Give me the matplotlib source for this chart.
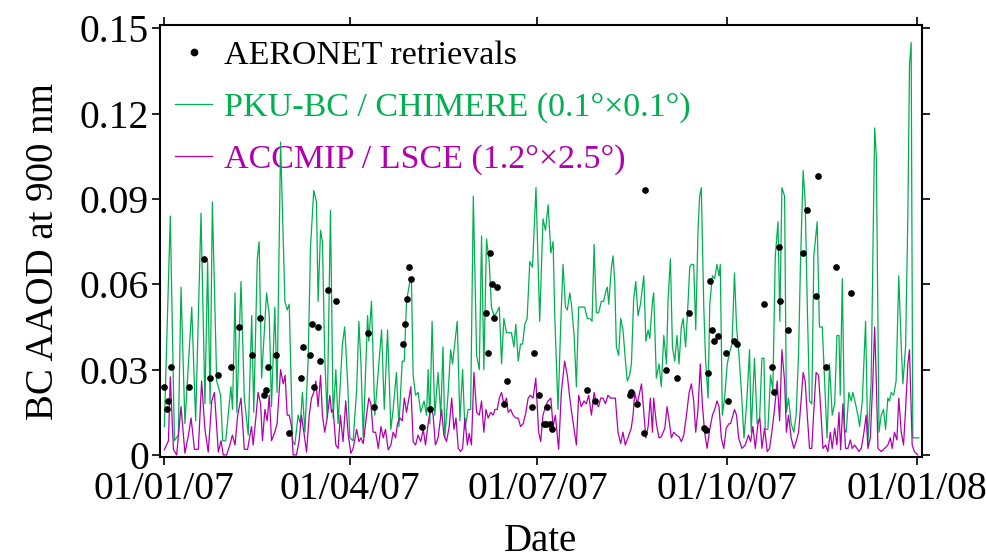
import datetime as dt

import matplotlib
matplotlib.use("Agg")
import matplotlib.dates as mdates
import matplotlib.pyplot as plt
import numpy as np

# ################ Data. ################ #
# days counted from 01/01/2007
START = dt.datetime(2007, 1, 1)

pku_days = [0.0, 2.9, 4.9, 6.8, 8.1, 10.0, 13.3, 15.2, 17.8, 19.7, 21.0, 22.2, 23.3, 25.4, 27.3, 28.3, 29.8, 32.3, 33.1,
            34.3, 35.2, 37.2, 38.8, 40.7, 42.4, 43.4, 45.1, 46.0, 47.2, 49.6, 50.9, 52.0, 53.6, 54.7, 56.4, 58.5, 59.6,
            60.6, 62.2, 63.3, 64.9, 66.0, 67.0, 68.2, 69.8, 70.9, 72.5, 73.8, 74.6, 75.8, 76.7, 77.8, 79.0, 80.6, 81.9,
            83.2, 84.3, 86.4, 87.5, 88.9, 90.0, 91.6, 93.3, 94.4, 95.4, 96.5, 98.6, 99.2, 100.5, 102.1, 103.4, 105.4,
            106.7, 108.3, 109.9, 111.0, 112.6, 113.8, 115.4, 116.4, 117.5, 119.1, 119.9, 120.7, 121.9, 123.1, 124.4,
            126.0, 127.2, 128.0, 128.8, 129.9, 131.2, 132.8, 134.1, 135.2, 136.1, 137.7, 138.9, 139.8, 141.0, 142.1,
            143.4, 144.7, 145.8, 147.4, 148.6, 149.9, 151.5, 152.8, 153.9, 155.0, 156.3, 157.6, 158.7, 159.9, 161.2,
            162.5, 163.6, 164.7, 166.0, 167.3, 168.4, 169.6, 170.5, 171.7, 172.8, 173.8, 174.9, 176.0, 177.3, 178.6,
            180.3, 182.1, 183.7, 184.9, 186.2, 187.5, 188.6, 189.4, 191.0, 192.3, 193.4, 194.6, 195.5, 196.7, 197.5,
            198.8, 199.9, 201.0, 202.3, 203.9, 205.2, 206.4, 207.5, 208.5, 209.6, 210.7, 212.0, 213.1, 214.0, 214.9,
            215.6, 216.9, 217.7, 218.5, 219.3, 220.4, 221.4, 222.5, 223.6, 224.6, 225.7, 226.6, 227.7, 228.7, 229.8,
            231.0, 232.6, 233.6, 234.7, 235.5, 236.8, 237.4, 238.7, 240.0, 241.1, 242.3, 243.6, 244.4, 245.5, 246.5,
            247.6, 248.7, 249.7, 250.8, 251.7, 252.9, 254.1, 254.9, 255.7, 256.8, 257.8, 258.9, 259.7, 260.5, 261.7,
            262.6, 263.8, 264.6, 265.9, 267.0, 268.1, 269.1, 269.7, 270.7, 271.8, 273.1, 274.2, 275.4, 276.6, 277.6,
            278.6, 279.9, 281.2, 282.5, 283.9, 284.7, 286.3, 287.6, 288.8, 289.9, 290.9, 291.5, 292.8, 294.1, 295.2,
            296.4, 297.7, 298.6, 299.6, 300.9, 301.8, 302.8, 304.1, 305.4, 306.5, 307.7, 308.6, 309.9, 310.9, 311.9,
            313.0, 314.1, 315.1, 316.7, 317.8, 319.2, 320.3, 321.5, 322.7, 324.0, 325.2, 326.3, 327.3, 327.9, 328.9,
            330.0, 330.8, 332.1, 333.2, 334.0, 335.3, 336.5, 337.3, 338.6, 340.2, 341.3, 342.9, 344.6, 345.4, 346.7,
            347.8, 348.9, 349.9, 351.0, 351.8, 352.6, 353.8, 355.0, 356.3, 357.5, 358.3, 359.6, 360.7, 361.5, 362.3,
            363.1, 364.7, 366.0]
pku_aaod = [0.010, 0.084, 0.005, 0.007, 0.059, 0.011, 0.052, 0.012, 0.085, 0.018, 0.068, 0.018, 0.089, 0.026, 0.021,
            0.005, 0.005, 0.024, 0.016, 0.057, 0.015, 0.061, 0.020, 0.007, 0.049, 0.015, 0.069, 0.075, 0.027, 0.057,
            0.049, 0.017, 0.052, 0.022, 0.110, 0.054, 0.051, 0.053, 0.005, 0.0035, 0.014, 0.011, 0.022, 0.008, 0.034,
            0.073, 0.093, 0.089, 0.054, 0.079, 0.075, 0.035, 0.013, 0.086, 0.013, 0.030, 0.011, 0.039, 0.045, 0.026,
            0.006, 0.005, 0.023, 0.047, 0.032, 0.006, 0.049, 0.040, 0.054, 0.014, 0.026, 0.044, 0.016, 0.044, 0.009,
            0.016, 0.029, 0.010, 0.033, 0.033, 0.054, 0.061, 0.061, 0.028, 0.021, 0.022, 0.015, 0.019, 0.014, 0.030,
            0.011, 0.047, 0.014, 0.029, 0.014, 0.038, 0.006, 0.022, 0.037, 0.032, 0.040, 0.047, 0.012, 0.030, 0.009,
            0.016, 0.016, 0.091, 0.035, 0.030, 0.077, 0.030, 0.076, 0.068, 0.052, 0.049, 0.050, 0.052, 0.032, 0.048,
            0.043, 0.043, 0.043, 0.038, 0.046, 0.033, 0.039, 0.039, 0.046, 0.048, 0.068, 0.066, 0.094, 0.047, 0.083,
            0.079, 0.088, 0.071, 0.075, 0.049, 0.016, 0.046, 0.067, 0.052, 0.051, 0.057, 0.053, 0.042, 0.024, 0.052,
            0.052, 0.052, 0.048, 0.048, 0.047, 0.074, 0.050, 0.050, 0.054, 0.054, 0.057, 0.059, 0.053, 0.066, 0.070,
            0.061, 0.038, 0.035, 0.048, 0.044, 0.034, 0.026, 0.028, 0.032, 0.055, 0.061, 0.049, 0.053, 0.063, 0.040,
            0.044, 0.041, 0.054, 0.057, 0.027, 0.032, 0.024, 0.042, 0.032, 0.055, 0.069, 0.038, 0.033, 0.042, 0.032,
            0.045, 0.048, 0.038, 0.054, 0.066, 0.067, 0.067, 0.044, 0.079, 0.091, 0.094, 0.052, 0.033, 0.020, 0.053,
            0.063, 0.062, 0.067, 0.063, 0.067, 0.014, 0.020, 0.032, 0.036, 0.039, 0.064, 0.045, 0.037, 0.023, 0.006,
            0.018, 0.037, 0.008, 0.034, 0.011, 0.013, 0.034, 0.034, 0.009, 0.009, 0.028, 0.023, 0.070, 0.082, 0.047,
            0.094, 0.091, 0.015, 0.020, 0.011, 0.008, 0.014, 0.036, 0.067, 0.100, 0.089, 0.053, 0.019, 0.018, 0.070,
            0.082, 0.045, 0.045, 0.026, 0.006, 0.032, 0.014, 0.018, 0.042, 0.042, 0.021, 0.062, 0.009, 0.008, 0.022,
            0.019, 0.022, 0.018, 0.014, 0.010, 0.019, 0.047, 0.0035, 0.026, 0.115, 0.105, 0.008, 0.014, 0.016, 0.009,
            0.020, 0.019, 0.022, 0.021, 0.026, 0.063, 0.038, 0.025, 0.038, 0.084, 0.137, 0.145, 0.006, 0.006, 0.006]

accmip_days = [0.0, 2.0, 2.9, 4.4, 6.0, 8.1, 10.0, 11.7, 13.0, 14.6, 16.5, 18.1, 19.7, 21.3, 23.0, 24.3, 26.2, 27.5,
               28.6, 30.2, 31.8, 33.0, 34.3, 35.6, 37.2, 38.8, 40.4, 42.3, 43.1, 44.4, 45.5, 46.7, 47.6, 48.8, 49.9,
               50.9, 52.0, 53.6, 54.7, 56.4, 57.7, 58.6, 59.6, 60.6, 61.7, 62.5, 64.1, 65.4, 66.5, 67.7, 69.0, 70.3,
               71.4, 72.5, 73.5, 74.6, 75.8, 76.7, 77.8, 79.0, 80.3, 81.1, 81.9, 83.2, 84.3, 85.4, 86.7, 88.0, 89.2,
               90.5, 91.6, 93.3, 94.4, 95.4, 96.5, 98.1, 99.2, 100.2, 101.3, 102.5, 103.8, 105.1, 106.2, 107.3, 108.6,
               109.9, 111.0, 112.2, 113.1, 114.3, 115.4, 116.4, 117.5, 119.6, 120.7, 121.9, 123.1, 124.4, 125.6, 126.7,
               128.0, 129.3, 130.4, 131.5, 132.8, 134.5, 135.6, 136.9, 138.2, 139.4, 140.5, 141.5, 142.6, 143.7,
               144.7, 145.8, 147.0, 147.9, 149.0, 150.2, 151.5, 152.8, 153.9, 155.0, 156.0, 157.1, 158.3, 159.5,
               160.4, 161.5, 162.5, 163.6, 164.7, 166.0, 166.8, 168.0, 169.2, 170.5, 171.7, 172.8, 174.1, 175.4,
               176.5, 177.6, 178.9, 180.2, 181.6, 182.6, 183.7, 184.9, 186.2, 187.5, 188.6, 189.7, 191.3, 192.6,
               194.2, 195.5, 196.7, 197.8, 198.8, 199.9, 201.0, 202.3, 203.6, 204.7, 205.9, 207.2, 208.5, 209.6,
               210.7, 211.7, 212.8, 214.0, 215.2, 216.5, 217.7, 218.8, 220.1, 221.4, 222.5, 223.6, 224.9, 226.5,
               227.4, 228.2, 229.4, 230.3, 231.5, 232.6, 233.6, 234.7, 235.8, 236.8, 237.4, 238.7, 240.0, 241.1,
               242.8, 243.9, 244.9, 246.0, 247.1, 248.4, 249.7, 250.8, 252.0, 253.3, 254.6, 255.7, 256.8, 257.8,
               258.9, 260.0, 261.0, 262.1, 263.3, 264.6, 265.9, 267.0, 268.1, 269.1, 270.2, 271.4, 272.6, 273.9,
               274.7, 276.6, 277.6, 278.6, 280.2, 281.8, 283.4, 284.4, 285.5, 286.7, 288.0, 288.9, 289.9, 291.2,
               292.5, 293.6, 294.7, 296.0, 297.3, 298.5, 299.6, 300.9, 301.8, 302.8, 304.1, 305.4, 306.5, 307.7,
               309.0, 309.9, 310.9, 311.9, 313.0, 314.1, 315.1, 316.2, 317.4, 318.6, 319.5, 320.8, 321.9, 323.1,
               324.0, 325.2, 326.3, 327.3, 328.1, 329.2, 330.5, 331.6, 332.8, 333.7, 334.9, 336.0, 337.0, 338.1,
               339.2, 340.5, 341.3, 342.5, 343.7, 344.6, 345.4, 346.2, 347.8, 349.4, 351.0, 352.2, 353.1, 354.2,
               355.4, 356.3, 357.5, 358.6, 359.6, 360.7, 361.5, 362.8, 363.9, 365.5]
accmip_aaod = [0.0018, 0.005, 0.0275, 0.002, 0.0, 0.017, 0.0006, 0.007, 0.013, 0.002, 0.002, 0.026, 0.009, 0.001,
               0.019, 0.022, 0.001, 0.005, 0.0, 0.0, 0.0035, 0.007, 0.0035, 0.014, 0.020, 0.002, 0.002, 0.010, 0.0035,
               0.013, 0.022, 0.018, 0.005, 0.016, 0.012, 0.021, 0.005, 0.008, 0.011, 0.030, 0.025, 0.028, 0.014, 0.014,
               0.010, 0.0, 0.0, 0.005, 0.014, 0.008, 0.001, 0.014, 0.020, 0.022, 0.026, 0.017, 0.028, 0.014, 0.008,
               0.013, 0.021, 0.015, 0.016, 0.0035, 0.0023, 0.014, 0.0047, 0.019, 0.007, 0.0006, 0.0023, 0.009, 0.0047,
               0.006, 0.004, 0.014, 0.020, 0.018, 0.008, 0.008, 0.0023, 0.010, 0.006, 0.009, 0.0018, 0.0035, 0.008,
               0.006, 0.011, 0.013, 0.012, 0.020, 0.015, 0.024, 0.0047, 0.0035, 0.007, 0.0047, 0.009, 0.0035, 0.011,
               0.017, 0.014, 0.0035, 0.006, 0.016, 0.007, 0.0047, 0.010, 0.020, 0.009, 0.013, 0.0023, 0.0012, 0.0023,
               0.013, 0.0035, 0.0076, 0.0035, 0.029, 0.015, 0.014, 0.019, 0.008, 0.016, 0.013, 0.015, 0.014, 0.016,
               0.016, 0.020, 0.022, 0.018, 0.020, 0.015, 0.016, 0.014, 0.013, 0.013, 0.010, 0.011, 0.015, 0.020, 0.021,
               0.020, 0.027, 0.008, 0.0047, 0.014, 0.017, 0.019, 0.020, 0.010, 0.014, 0.002, 0.022, 0.033, 0.028,
               0.020, 0.014, 0.009, 0.0035, 0.021, 0.017, 0.019, 0.018, 0.021, 0.014, 0.022, 0.018, 0.017, 0.020,
               0.020, 0.018, 0.021, 0.020, 0.020, 0.020, 0.008, 0.004, 0.008, 0.0035, 0.006, 0.0094, 0.014, 0.022,
               0.018, 0.021, 0.025, 0.015, 0.006, 0.010, 0.020, 0.008, 0.020, 0.011, 0.006, 0.0064, 0.0094, 0.017,
               0.012, 0.006, 0.008, 0.007, 0.0064, 0.0047, 0.007, 0.014, 0.022, 0.025, 0.019, 0.008, 0.016, 0.032,
               0.018, 0.008, 0.0023, 0.009, 0.014, 0.016, 0.019, 0.017, 0.006, 0.0023, 0.0094, 0.011, 0.011, 0.016,
               0.014, 0.006, 0.0023, 0.0035, 0.007, 0.0047, 0.010, 0.0023, 0.011, 0.013, 0.0023, 0.0094, 0.0012,
               0.0023, 0.008, 0.016, 0.026, 0.012, 0.037, 0.026, 0.008, 0.014, 0.006, 0.0023, 0.0047, 0.008, 0.020,
               0.029, 0.026, 0.014, 0.0023, 0.0023, 0.016, 0.029, 0.028, 0.014, 0.0023, 0.0035, 0.0012, 0.008,
               0.0023, 0.0094, 0.0035, 0.015, 0.0018, 0.018, 0.0023, 0.0023, 0.0053, 0.0023, 0.0035, 0.0023, 0.0012,
               0.0023, 0.007, 0.014, 0.0023, 0.006, 0.026, 0.045, 0.026, 0.0023, 0.0012, 0.0023, 0.0035, 0.006,
               0.0023, 0.008, 0.0053, 0.020, 0.008, 0.0035, 0.016, 0.032, 0.037, 0.0035, 0.0012, 0.0]

aeronet_days = [0.0, 1.2, 2.0, 3.1, 12.1, 19.1, 22.2, 26.2, 32.3, 36.4, 42.4, 46.3, 48.3, 49.3, 50.4, 54.4, 60.6,
                66.5, 67.3, 70.6, 71.5, 72.5, 74.5, 75.4, 79.5, 83.5, 98.6, 101.8, 115.9, 116.7, 117.6, 118.6, 119.9,
                125.1, 128.8, 156.0, 157.1, 157.9, 158.9, 160.0, 161.2, 164.9, 166.0, 178.3, 179.3, 181.8, 184.2,
                185.4, 185.8, 187.0, 188.1, 205.2, 209.1, 225.7, 226.5, 229.4, 232.6, 233.4, 243.6, 248.7, 254.6,
                261.7, 262.6, 263.8, 264.6, 265.5, 266.7, 268.6, 272.6, 273.5, 276.6, 277.6, 290.9, 294.9, 295.7,
                298.0, 298.8, 302.7, 310.0, 311.7, 315.9, 316.9, 321.1, 325.7, 332.9]
aeronet_aaod = [0.024, 0.016, 0.019, 0.031, 0.024, 0.069, 0.027, 0.028, 0.031, 0.045, 0.035, 0.048, 0.021, 0.023,
                0.031, 0.035, 0.0076, 0.027, 0.038, 0.035, 0.046, 0.024, 0.045, 0.033, 0.058, 0.054, 0.043, 0.017,
                0.039, 0.046, 0.055, 0.066, 0.062, 0.010, 0.016, 0.050, 0.036, 0.071, 0.060, 0.048, 0.059, 0.018,
                0.026, 0.017, 0.036, 0.021, 0.011, 0.011, 0.017, 0.011, 0.009, 0.023, 0.019, 0.021, 0.022, 0.018,
                0.0076, 0.093, 0.030, 0.027, 0.050, 0.0094, 0.0088, 0.029, 0.061, 0.044, 0.040, 0.042, 0.036, 0.019,
                0.040, 0.039, 0.053, 0.031, 0.022, 0.073, 0.054, 0.044, 0.071, 0.086, 0.056, 0.098, 0.031, 0.066,
                0.057]

LABELS = ["AERONET retrievals", "PKU-BC / CHIMERE (0.1°×0.1°)", "ACCMIP / LSCE (1.2°×2.5°)"]
GREEN = "#00B050"
MAGENTA = "#B000B0"


def to_dates(days):
    return [START + dt.timedelta(days=d) for d in days]


# ################ Plot. ################ #
plt.rcParams["font.family"] = ["Liberation Serif", "DejaVu Serif"]

fig = plt.figure(figsize=(9.87, 5.6), dpi=100)
ax = fig.add_axes([0.1621, 0.1845, 0.7717, 0.7709])

ax.plot(to_dates(pku_days), pku_aaod, color=GREEN, lw=0.9, label=LABELS[1], zorder=2)
ax.plot(to_dates(accmip_days), accmip_aaod, color=MAGENTA, lw=0.9, label=LABELS[2], zorder=3)
ax.plot(to_dates(aeronet_days), aeronet_aaod, 'o', color='black', ms=3.8, label=LABELS[0], zorder=4)

ax.set_xlim(START - dt.timedelta(days=2.1), START + dt.timedelta(days=367.4))
ax.set_ylim(-0.0006, 0.1512)
ax.set_yticks([0, 0.03, 0.06, 0.09, 0.12, 0.15])
ax.set_yticklabels(["0", "0.03", "0.06", "0.09", "0.12", "0.15"])
ax.set_xticks([dt.datetime(2007, 1, 1), dt.datetime(2007, 4, 1), dt.datetime(2007, 7, 1),
               dt.datetime(2007, 10, 1), dt.datetime(2008, 1, 1)])
ax.xaxis.set_major_formatter(mdates.DateFormatter("%d/%m/%y"))

ax.tick_params(direction='out', length=6, width=1.2, labelsize=28.5, pad=2,
               top=True, right=True)
ax.tick_params(axis='x', pad=4)
for s in ax.spines.values():
    s.set_linewidth(1.5)

ax.set_xlabel("Date", fontsize=28, labelpad=11)
ax.set_ylabel("BC AAOD at 900 nm", fontsize=28)
ax.yaxis.set_label_coords(-0.128, 0.475)

handles, labels = ax.get_legend_handles_labels()
order = [2, 0, 1]
leg = ax.legend([handles[i] for i in order], [labels[i] for i in order], loc='upper left',
                frameon=False, fontsize=24.5, handlelength=1.1, handletextpad=0.35,
                labelspacing=0.62, borderaxespad=0.04, borderpad=0.4, markerscale=1.2)
leg.get_texts()[1].set_color(GREEN)
leg.get_texts()[2].set_color(MAGENTA)
leg.set_zorder(1)

fig.savefig("out.png", dpi=100)
